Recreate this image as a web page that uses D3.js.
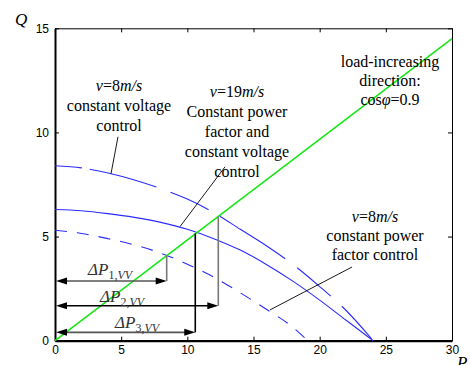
<!DOCTYPE html>
<html>
<head>
<meta charset="utf-8">
<script src="https://cdn.jsdelivr.net/npm/d3@7"></script>
<style>
  html, body { margin: 0; padding: 0; background: #fff; }
  svg { display: block; }
  .serif { font-family: "Liberation Serif", "Times New Roman", serif; }
  .tick text { font-family: "Liberation Sans", Arial, sans-serif; font-size: 12px; }
</style>
</head>
<body>
<svg id="chart" width="470" height="365"></svg>
<script>
// curves, [P, Q]
const loadLine = [[0, 0], [30, 14.5]];
const cvCurve = [[0, 8.4], [2, 8.3], [4, 8.05], [6, 7.72], [8, 7.3], [10, 6.8], [12, 6.15], [14, 5.35],
  [16, 4.55], [18, 3.65], [20, 2.6], [22, 1.45], [24.05, 0]];
const bothCurve = [[0, 6.3], [2, 6.24], [4, 6.1], [6, 5.92], [8, 5.68], [10, 5.35], [12, 4.9], [14, 4.35],
  [16, 3.65], [18, 2.85], [20, 1.95], [22, 0.98], [24.05, 0]];
const pfCurve = [[0, 5.3], [2, 5.15], [4, 4.9], [6, 4.6], [8, 4.2], [10, 3.67], [12, 3.05], [14, 2.3],
  [16, 1.5], [18, 0.63], [19.1, 0]];

// ΔP arrows: end P, arrow Q, top of vertical Q
const deltaArrows = [
  { sub: "1", p: 8.44, q: 2.87, top: 4.08 },
  { sub: "2", p: 12.34, q: 1.68, top: 5.97 },
  { sub: "3", p: 10.6, q: 0.4, top: 5.15 },
];
const leaders = [
  [[4.76, 9.79], [4.23, 8.01]],
  [[12.85, 8.35], [9.45, 5.48]],
  [[22.45, 3.54], [16.25, 1.48]],
];
const xTicks = [0, 5, 10, 15, 20, 25, 30];
const yTicks = [0, 5, 10, 15];

const svg = d3.select("#chart");
const x = d3.scaleLinear().domain([0, 30]).range([55, 452]);
const y = d3.scaleLinear().domain([0, 15]).range([340.7, 28.3]);
const line = d3.line().x((d) => x(d[0])).y((d) => y(d[1])).curve(d3.curveMonotoneX);
const straight = d3.line().x((d) => x(d[0])).y((d) => y(d[1]));

// axes box, ticks inward (matlab style)
const axB = svg.append("g").attr("transform", `translate(0,${y(0)})`)
  .call(d3.axisBottom(x).tickValues(xTicks).tickSizeInner(-4).tickSizeOuter(0).tickPadding(7));
const axT = svg.append("g").attr("transform", `translate(0,${y(15)})`)
  .call(d3.axisTop(x).tickValues(xTicks).tickSizeInner(-4).tickSizeOuter(0).tickFormat(""));
const axL = svg.append("g").attr("transform", `translate(${x(0)},0)`)
  .call(d3.axisLeft(y).tickValues(yTicks).tickSizeInner(-4).tickSizeOuter(0).tickPadding(7));
const axR = svg.append("g").attr("transform", `translate(${x(30)},0)`)
  .call(d3.axisRight(y).tickValues(yTicks).tickSizeInner(-4).tickSizeOuter(0).tickFormat(""));
for (const g of [axB, axT, axL, axR]) {
  g.selectAll("line").attr("stroke", "#000");
  g.selectAll("text").attr("fill", "#000");
}
axB.select(".domain").attr("stroke-width", 2.2);
axL.select(".domain").attr("stroke-width", 2);
axT.select(".domain").attr("stroke-width", 1);
axR.select(".domain").attr("stroke-width", 1);
axB.selectAll(".tick text").attr("dy", "0.55em");
axL.selectAll(".tick text").attr("dx", "1px");

const plot = svg.append("g");
plot.append("path").datum(cvCurve).attr("d", line).attr("fill", "none").attr("stroke", "#2b2bff")
  .attr("stroke-width", 1.1).attr("stroke-dasharray", "27,8,69,15,42,13,78,15,44,15,44,20");
plot.append("path").datum(bothCurve).attr("d", line).attr("fill", "none").attr("stroke", "#2b2bff")
  .attr("stroke-width", 1.1);
plot.append("path").datum(pfCurve).attr("d", line).attr("fill", "none").attr("stroke", "#2b2bff")
  .attr("stroke-width", 1.1).attr("stroke-dasharray", "12,10");
plot.append("path").datum(loadLine).attr("d", straight).attr("fill", "none").attr("stroke", "#12e812")
  .attr("stroke-width", 1.5);

// leader lines
plot.selectAll("path.leader").data(leaders).join("path").attr("class", "leader")
  .attr("d", straight).attr("stroke", "#000").attr("stroke-width", 0.9);

// ΔP dimension arrows
const hStroke = ["#555", "#000", "#555"];
const vStroke = ["#777", "#777", "#000"];
const head = (px, py, dir) => `M${px},${py}L${px - dir * 11},${py - 3.5}L${px - dir * 11},${py + 3.5}Z`;
deltaArrows.forEach((a, i) => {
  const g = plot.append("g");
  g.append("line").attr("x1", x(a.p)).attr("x2", x(a.p)).attr("y1", y(a.q)).attr("y2", y(a.top))
    .attr("stroke", vStroke[i]).attr("stroke-width", 1.6);
  g.append("line").attr("x1", x(0) + 8).attr("x2", x(a.p) - 8).attr("y1", y(a.q)).attr("y2", y(a.q))
    .attr("stroke", hStroke[i]).attr("stroke-width", 1.6);
  g.append("path").attr("d", head(x(0) + 1, y(a.q), -1)).attr("fill", "#000");
  g.append("path").attr("d", head(x(a.p), y(a.q), 1)).attr("fill", "#000");
});

// text
const labelX = [88, 100, 115];
const labelY = [275, 301.5, 328];
deltaArrows.forEach((a, i) => {
  const t = svg.append("text").attr("class", "serif").attr("x", labelX[i]).attr("y", labelY[i])
    .attr("fill", "#333").attr("font-size", 17);
  t.append("tspan").attr("font-style", "italic").text("ΔP");
  t.append("tspan").attr("font-size", 12).attr("dy", 4).text(`${a.sub},`);
  t.append("tspan").attr("font-size", 12).attr("font-style", "italic").text("VV");
});

const block = (cx, y0, lines, gap = 20) => {
  lines.forEach((ln, i) => {
    const t = svg.append("text").attr("class", "serif").attr("x", cx).attr("y", y0 + i * gap)
      .attr("text-anchor", "middle").attr("font-size", 16).attr("fill", "#000");
    if (typeof ln === "string") { t.text(ln); return; }
    for (const [s, it] of ln) t.append("tspan").attr("font-style", it ? "italic" : null).text(s);
  });
};
const speed = (v) => [["v", true], [`=${v}`, false], ["m/s", true]];
block(119, 91, [speed(8), "constant voltage", "control"]);
block(237, 97, [speed(19), "Constant power", "factor and", "constant voltage", "control"]);
block(390, 67, ["load-increasing", "direction:", [["cos", false], ["φ", true], ["=0.9", false]]], 19);
block(375, 222, [speed(8), "constant power", "factor control"], 19);

svg.append("text").attr("class", "serif").attr("x", 15).attr("y", 25).attr("font-size", 17)
  .attr("font-style", "italic").text("Q");
// axis name sits half below the frame, as in the source figure
svg.append("text").attr("class", "serif").attr("x", 457).attr("y", 368).attr("font-size", 17)
  .attr("font-style", "italic").text("P");
</script>
</body>
</html>
